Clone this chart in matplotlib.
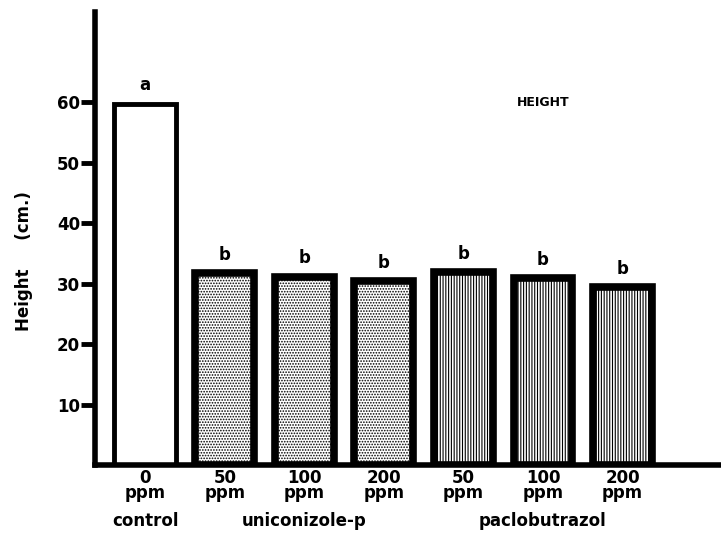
import matplotlib.pyplot as plt
import matplotlib as mpl

mpl.rcParams['hatch.linewidth'] = 0.8

doses = ["0", "50", "100", "200", "50", "100", "200"]
heights = [59.8, 31.7, 31.1, 30.4, 31.9, 30.9, 29.4]
letters = ["a", "b", "b", "b", "b", "b", "b"]
hatches = ["", "......", "......", "......", "||||||", "||||||", "||||||"]
groups = ["control", "uniconizole-p", "paclobutrazol"]
group_pos = [0, 2, 5]

fig = plt.figure(figsize=(7.21, 5.37), dpi=100)
ax = fig.add_axes([0.132, 0.134, 0.866, 0.844])

x = list(range(len(heights)))
for i, h in enumerate(heights):
    lw = 3.5 if i == 0 else 5.5
    w = 0.78 if i == 0 else 0.74
    ax.bar(i, h, width=w, color='white', edgecolor='black',
           linewidth=lw, hatch=hatches[i], zorder=2)
    ax.text(i, h + 1.6, letters[i], ha='center', va='bottom',
            fontsize=12, fontweight='bold')

ax.set_xlim(-0.63, 7.22)
ax.set_ylim(0, 75)

for s in ['top', 'right']:
    ax.spines[s].set_visible(False)
for s in ['left', 'bottom']:
    ax.spines[s].set_linewidth(4)

ax.set_yticks([10, 20, 30, 40, 50, 60])
ax.tick_params(axis='y', length=10, width=3.5, labelsize=12, pad=1)
for lab in ax.get_yticklabels():
    lab.set_fontweight('bold')

ax.set_xticks(x)
ax.set_xticklabels([d + "\nppm" for d in doses], fontsize=12,
                   fontweight='bold', linespacing=0.75)
ax.tick_params(axis='x', length=0, pad=3)

for g, p in zip(groups, group_pos):
    ax.text(p, -9.2, g, ha='center', va='center', fontsize=12,
            fontweight='bold')

ax.text(5.0, 60, "HEIGHT", ha='center', va='center', fontsize=9,
        fontweight='bold')
ax.set_ylabel("Height     (cm.)", fontsize=12, fontweight='bold')
ax.yaxis.set_label_coords(-0.1, 0.45)

fig.savefig("out.png", dpi=100)
